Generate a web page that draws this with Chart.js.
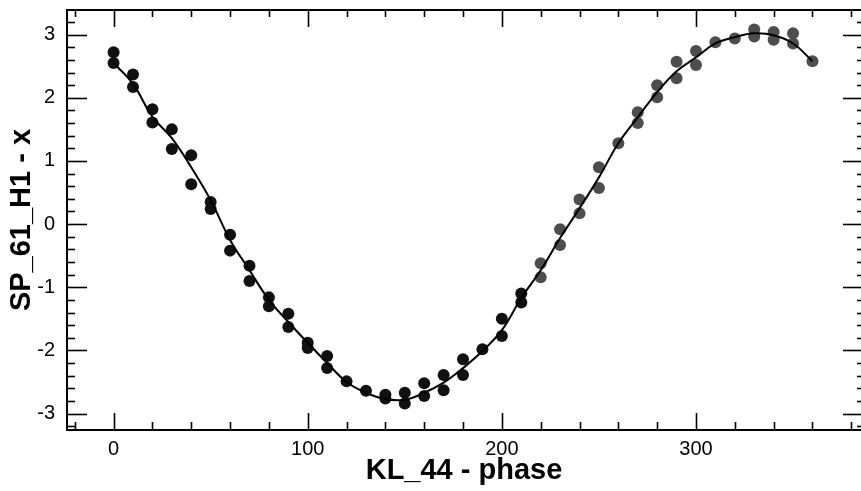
<!DOCTYPE html>
<html>
<head>
<meta charset="utf-8">
<script src="https://cdn.jsdelivr.net/npm/chart.js@4/dist/chart.umd.min.js"></script>
<style>
  html, body { margin: 0; padding: 0; background: #fff; }
  #wrap { width: 861px; height: 491px; }
</style>
</head>
<body>
<div id="wrap"><canvas id="chart" width="861" height="491"></canvas></div>
<script>
// Phase steps (degrees) and the two measured runs at each step
const phases = [0, 10, 20, 30, 40, 50, 60, 70, 80, 90, 100, 110, 120, 130, 140, 150, 160, 170, 180,
                190, 200, 210, 220, 230, 240, 250, 260, 270, 280, 290, 300, 310, 320, 330, 340, 350, 360];
const runA = [2.72, 2.37, 1.82, 1.50, 1.09, 0.35, -0.17, -0.66, -1.16, -1.42, -1.88, -2.09, -2.49, -2.64,
              -2.70, -2.67, -2.52, -2.39, -2.14, -1.98, -1.50, -1.10, -0.62, -0.08, 0.39, 0.90, 1.28,
              1.77, 2.20, 2.57, 2.74, 2.88, 2.94, 3.08, 3.04, 3.02, 2.58];
const runB = [2.55, 2.17, 1.61, 1.19, 0.63, 0.24, -0.42, -0.90, -1.30, -1.63, -1.96, -2.28, null, null,
              -2.76, -2.84, -2.72, -2.63, -2.39, null, -1.77, -1.24, -0.84, -0.33, 0.17, 0.57, null,
              1.60, 2.01, 2.31, 2.52, null, null, 2.97, 2.92, 2.86, null];
// Fitted curve at the same phases
const fitCurve = [2.55, 2.22, 1.70, 1.36, 0.90, 0.38, -0.25, -0.73, -1.20, -1.55, -1.88, -2.20, -2.50, -2.67,
                  -2.77, -2.78, -2.67, -2.51, -2.28, -2.01, -1.68, -1.17, -0.73, -0.22, 0.25, 0.74, 1.28,
                  1.69, 2.09, 2.42, 2.64, 2.86, 2.96, 3.02, 2.99, 2.86, 2.58];

const xTickValues = [0, 100, 200, 300];
const yTickValues = [-3, -2, -1, 0, 1, 2, 3];
const xLabel = 'KL_44 - phase';
const yLabel = 'SP_61_H1 - x';

// Axis limits
const X_MIN = -24, X_MAX = 385;
const Y_MIN = -3.26, Y_MAX = 3.39;

const FONT = "'Liberation Sans', Arial, Helvetica, sans-serif";

// Scatter points from both runs
const points = [];
phases.forEach((p, i) => {
    if (runA[i] !== null) points.push({ x: p, y: runA[i] });
    if (runB[i] !== null) points.push({ x: p, y: runB[i] });
});
const curve = phases.map((p, i) => ({ x: p, y: fitCurve[i] }));

// Frame (left, top, bottom) with inward ticks on all four sides
const frameTicks = {
    id: 'frameTicks',
    afterDatasetsDraw(chart) {
        const { ctx, chartArea: a, scales: { x, y } } = chart;
        const seg = (x1, y1, x2, y2) => {
            ctx.beginPath();
            ctx.moveTo(x1, y1);
            ctx.lineTo(x2, y2);
            ctx.stroke();
        };
        ctx.save();
        ctx.strokeStyle = '#000';
        ctx.lineWidth = 2;
        ctx.beginPath();
        ctx.moveTo(a.right + 2, a.top);
        ctx.lineTo(a.left, a.top);
        ctx.lineTo(a.left, a.bottom);
        ctx.lineTo(a.right + 2, a.bottom);
        ctx.stroke();

        ctx.lineWidth = 1.6;
        // x: minor every 20, major every 100
        for (let i = Math.ceil(X_MIN / 20); i * 20 <= X_MAX; i++) {
            const px = Math.round(x.getPixelForValue(i * 20)) + 0.5;
            const major = i % 5 === 0;
            seg(px, a.bottom, px, a.bottom - (major ? 17 : 8));
            seg(px, a.top, px, a.top + (major ? 17 : 7));
        }
        // y: minor every 0.2, major every 1
        for (let i = Math.ceil(Y_MIN * 5); i <= Math.floor(Y_MAX * 5); i++) {
            const py = Math.round(y.getPixelForValue(i / 5)) + 0.5;
            const major = i % 5 === 0;
            seg(a.left, py, a.left + (major ? 20 : 8), py);
            seg(a.right + 1, py, a.right + 1 - (major ? 19 : 5), py);
        }
        ctx.restore();
    }
};

new Chart(document.getElementById('chart').getContext('2d'), {
    type: 'scatter',
    data: {
        datasets: [
            {
                label: 'fit',
                data: curve,
                showLine: true,
                borderColor: '#000',
                borderWidth: 2,
                pointRadius: 0,
                tension: 0.4,
                order: 0
            },
            {
                label: 'runs',
                data: points,
                pointRadius: 6,
                pointBorderWidth: 0,
                pointBackgroundColor: ctx => (ctx.raw && ctx.raw.x >= 220 ? '#4d4d4d' : '#111'),
                order: 1
            }
        ]
    },
    options: {
        responsive: false,
        animation: false,
        devicePixelRatio: 1,
        layout: { autoPadding: false, padding: { top: 10, right: 0, bottom: 0, left: 0 } },
        plugins: {
            legend: { display: false },
            tooltip: { enabled: false }
        },
        scales: {
            x: {
                type: 'linear',
                min: X_MIN,
                max: X_MAX,
                grid: { display: false, drawTicks: false },
                border: { display: false },
                afterBuildTicks: s => { s.ticks = xTickValues.map(v => ({ value: v })); },
                afterFit: s => {
                    s.height = 61;
                    s.paddingLeft = 0;
                    s.paddingRight = 0;
                },
                ticks: {
                    autoSkip: false,
                    maxRotation: 0,
                    padding: 7,
                    color: '#000',
                    font: { family: FONT, size: 20 }
                },
                title: {
                    display: true,
                    text: xLabel,
                    color: '#000',
                    font: { family: FONT, size: 29, weight: 'bold' },
                    padding: { top: 0, bottom: 3 }
                }
            },
            y: {
                type: 'linear',
                min: Y_MIN,
                max: Y_MAX,
                grid: { display: false, drawTicks: false },
                border: { display: false },
                afterBuildTicks: s => { s.ticks = yTickValues.map(v => ({ value: v })); },
                afterFit: s => {
                    s.width = 67;
                    s.paddingTop = 0;
                    s.paddingBottom = 0;
                },
                ticks: {
                    autoSkip: false,
                    padding: 12,
                    color: '#000',
                    font: { family: FONT, size: 20 }
                },
                title: {
                    display: true,
                    text: yLabel,
                    color: '#000',
                    font: { family: FONT, size: 29, weight: 'bold' },
                    padding: { top: 5, bottom: 0 }
                }
            }
        }
    },
    plugins: [frameTicks]
});
</script>
</body>
</html>
